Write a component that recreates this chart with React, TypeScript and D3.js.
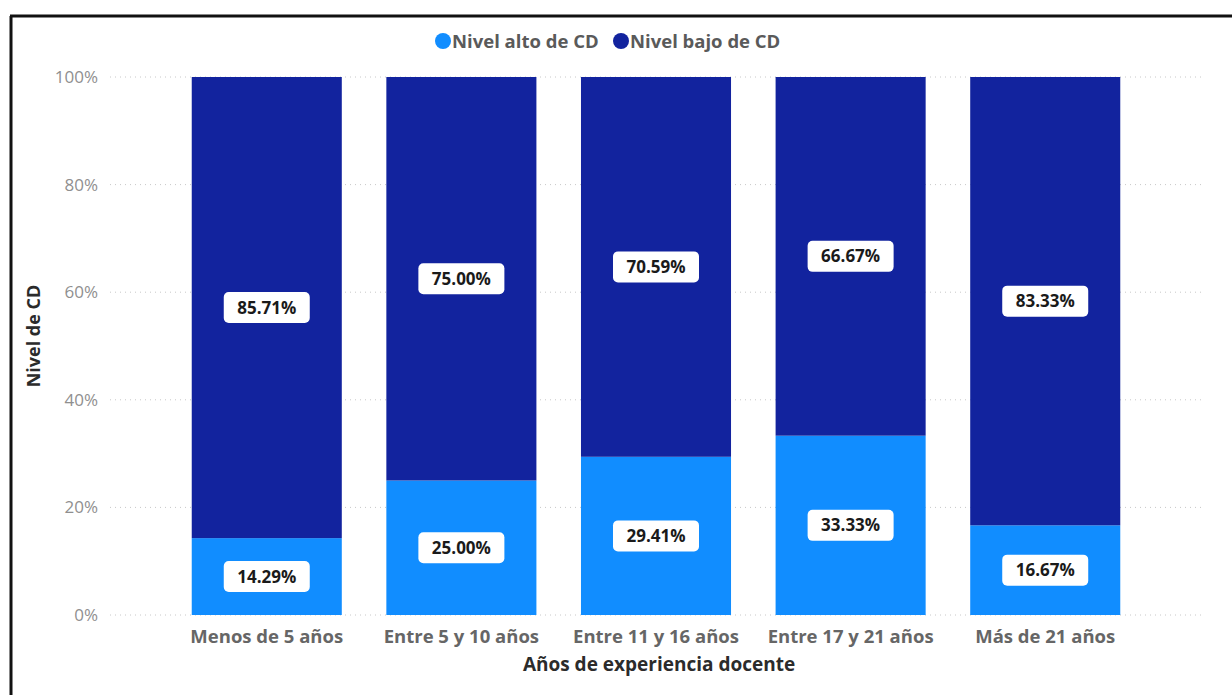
import React from "react";
import * as d3 from "d3";

const categories = [
  "Menos de 5 años",
  "Entre 5 y 10 años",
  "Entre 11 y 16 años",
  "Entre 17 y 21 años",
  "Más de 21 años",
];
const nivelAlto = [14.29, 25.0, 29.41, 33.33, 16.67];
const nivelBajo = [85.71, 75.0, 70.59, 66.67, 83.33];
const yTicks = [0, 20, 40, 60, 80, 100];
const seriesNames = ["Nivel alto de CD", "Nivel bajo de CD"];

const W = 1232;
const H = 695;
const COLORS = ["#118DFF", "#12239E"];
const FONT = "'Open Sans', 'Segoe UI', sans-serif";

export default function App() {
  const x = d3
    .scaleBand<string>()
    .domain(categories)
    .range([110, 1202])
    .paddingInner(0.229)
    .paddingOuter(0.42);
  const y = d3.scaleLinear().domain([0, 100]).range([615, 77]);

  const rows = categories.map((c, i) => ({ cat: c, alto: nivelAlto[i], bajo: nivelBajo[i] }));
  const stack = d3.stack<any>().keys(["alto", "bajo"])(rows);

  const fmt = (v: number) => v.toFixed(2) + "%";

  return (
    <div style={{ position: "absolute", left: 0, top: 0 }}>
      <svg width={W} height={H} style={{ display: "block", background: "#fff" }}>
        {/* frame */}
        <line x1={10} x2={W} y1={16} y2={16} stroke="#111" strokeWidth={3} />
        <line x1={11} x2={11} y1={16} y2={H} stroke="#111" strokeWidth={3} />

        {/* legend */}
        {seriesNames.map((n, i) => {
          const lx = [443, 621][i];
          return (
            <g key={n}>
              <circle cx={lx} cy={41} r={8} fill={COLORS[i]} />
              <text x={lx + 9} y={47.5} fontFamily={FONT} fontWeight={700} fontSize={18.5} fill="#5a5a5a">
                {n}
              </text>
            </g>
          );
        })}

        {/* gridlines and y ticks */}
        {yTicks.map((t) => (
          <g key={t}>
            <line
              x1={110}
              x2={1205}
              y1={y(t)}
              y2={y(t)}
              stroke="#c8c8c8"
              strokeWidth={1}
              strokeDasharray="1 4"
            />
            <text
              x={98}
              y={y(t)}
              dy="0.35em"
              textAnchor="end"
              fontFamily={FONT}
              fontSize={17}
              fill="#8f8f8f"
            >
              {t}%
            </text>
          </g>
        ))}

        {/* bars */}
        {stack.map((layer, si) => (
          <g key={si}>
            {layer.map((d, i) => (
              <rect
                key={i}
                x={x(categories[i])!}
                width={x.bandwidth()}
                y={y(d[1])}
                height={y(d[0]) - y(d[1])}
                fill={COLORS[si]}
              />
            ))}
          </g>
        ))}

        {/* data labels */}
        {stack.map((layer, si) =>
          layer.map((d, i) => {
            const cx = x(categories[i])! + x.bandwidth() / 2;
            const cy = (y(d[0]) + y(d[1])) / 2;
            const v = si === 0 ? nivelAlto[i] : nivelBajo[i];
            return (
              <g key={`${si}-${i}`}>
                <rect x={cx - 43} y={cy - 15.5} width={86} height={31} rx={5} fill="#fff" />
                <text
                  x={cx}
                  y={cy}
                  dy="0.36em"
                  textAnchor="middle"
                  fontFamily={FONT}
                  fontWeight={700}
                  fontSize={17}
                  fill="#1a1a1a"
                >
                  {fmt(v)}
                </text>
              </g>
            );
          })
        )}

        {/* category labels */}
        {categories.map((c) => (
          <text
            key={c}
            x={x(c)! + x.bandwidth() / 2}
            y={637}
            dy="0.35em"
            textAnchor="middle"
            fontFamily={FONT}
            fontWeight={700}
            fontSize={18.5}
            fill="#666"
          >
            {c}
          </text>
        ))}

        {/* axis titles */}
        <text
          x={659}
          y={664}
          dy="0.35em"
          textAnchor="middle"
          fontFamily={FONT}
          fontWeight={700}
          fontSize={19}
          fill="#2b2b2b"
        >
          Años de experiencia docente
        </text>
        <text
          transform={`translate(34,336) rotate(-90)`}
          dy="0.35em"
          textAnchor="middle"
          fontFamily={FONT}
          fontWeight={700}
          fontSize={18}
          fill="#2b2b2b"
        >
          Nivel de CD
        </text>
      </svg>
    </div>
  );
}
